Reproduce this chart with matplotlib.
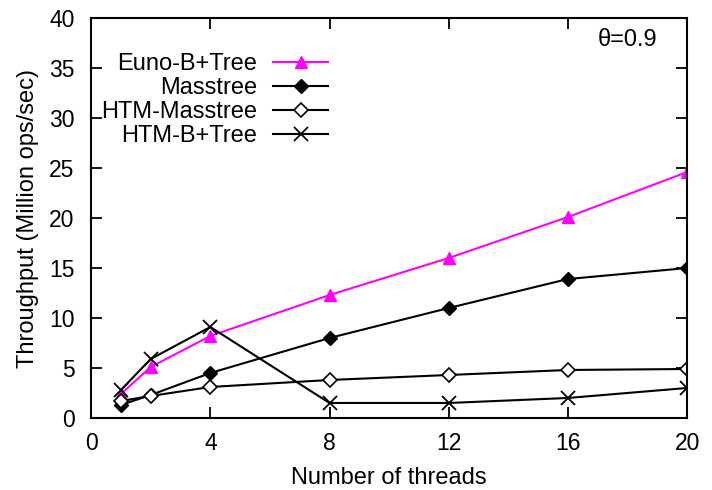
import numpy as np
import matplotlib
matplotlib.use("Agg")
import matplotlib.pyplot as plt

plt.rcParams['font.family'] = ['Liberation Sans', 'DejaVu Sans']

threads = [1, 2, 4, 8, 12, 16, 20]
euno = [2.4, 5.1, 8.2, 12.3, 16.0, 20.1, 24.6]
masstree = [1.3, 2.3, 4.5, 8.0, 11.0, 13.9, 15.0]
htm_masstree = [1.7, 2.2, 3.1, 3.8, 4.3, 4.8, 4.9]
htm_btree = [2.8, 5.9, 9.1, 1.5, 1.5, 2.0, 3.0]

fig = plt.figure(figsize=(7.12, 4.9), dpi=100)
ax = fig.add_axes([0.128, 0.147, 0.837, 0.816])

lw = 1.5
ax.plot(threads, euno, color='#ff00ff', marker='^', ms=8, lw=lw, label='Euno-B+Tree')
ax.plot(threads, masstree, color='black', marker='D', ms=7, lw=lw, label='Masstree')
ax.plot(threads, htm_masstree, color='black', marker='D', ms=7, mfc='white', mew=1.2, lw=lw,
        label='HTM-Masstree')
ax.plot(threads, htm_btree, color='black', marker='x', ms=10, mew=1.3, lw=lw, label='HTM-B+Tree')

ax.set_xlim(0, 20)
ax.set_ylim(0, 40)
ax.set_xticks([0, 4, 8, 12, 16, 20])
ax.set_yticks(np.arange(0, 41, 5))
ax.tick_params(direction='in', length=8, width=1.3, top=True, right=True, labelsize=16.5)
ax.tick_params(axis='x', pad=10)
ax.tick_params(axis='y', pad=12)
for s in ax.spines.values():
    s.set_linewidth(1.5)

ax.set_xlabel('Number of threads', fontsize=17, labelpad=9)
ax.set_ylabel('Throughput (Million ops/sec)', fontsize=17, labelpad=7)

ax.text(0.90, 0.945, 'θ=0.9', transform=ax.transAxes, ha='center', va='center', fontsize=17)

ax.legend(loc='upper right', bbox_to_anchor=(0.398, 0.912), markerfirst=False, frameon=False,
          fontsize=17, handlelength=2.35, handletextpad=0.65, labelspacing=0.08,
          borderpad=0, borderaxespad=0)

fig.savefig('out.png', dpi=100)
